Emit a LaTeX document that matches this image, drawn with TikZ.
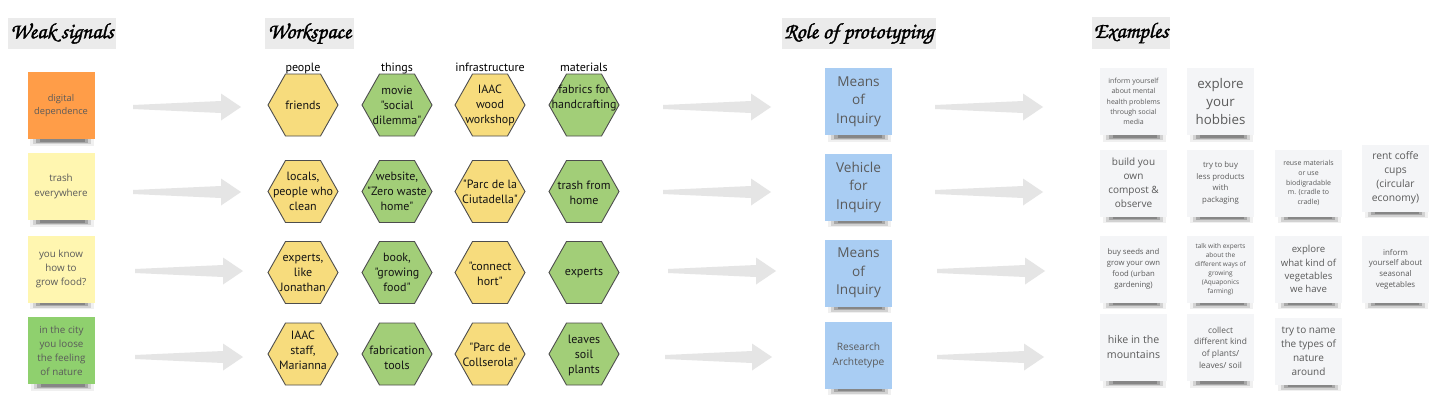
\documentclass[tikz,border=0pt]{standalone}
\usepackage{fontspec}
\setmainfont{Open Sans}
\newfontfamily\hexfont{PT Sans}
\newfontfamily\handfont[FakeBold=1.6]{texgyrechorus-mediumitalic.otf}
\usetikzlibrary{calc}
\pgfdeclarelayer{backlayer}
\pgfdeclarelayer{shadowlayer}
\pgfsetlayers{backlayer,shadowlayer,main}
\definecolor{orangesticky}{HTML}{FF9D48}
\definecolor{yellowsticky}{HTML}{FFF6B0}
\definecolor{greensticky}{HTML}{8FD06E}
\definecolor{bluesticky}{HTML}{A9CDF3}
\definecolor{graysticky}{HTML}{F4F5F7}
\definecolor{hexyellow}{HTML}{F7DC7D}
\definecolor{hexgreen}{HTML}{A2CE78}
\definecolor{hexborder}{HTML}{4D4D4D}
\definecolor{arrowgray}{HTML}{E5E5E5}
\definecolor{titlegray}{HTML}{EBEBEB}
\definecolor{stickytext}{HTML}{5A5A5A}
\definecolor{orangetext}{HTML}{6A4E38}
\definecolor{greentext}{HTML}{46543E}
\definecolor{bluetext}{HTML}{4A5560}
\newcommand\fs[2]{\fontsize{#1bp}{#2bp}\selectfont}
\tikzset{
  sticky/.style={rectangle, inner sep=0pt, minimum width=67bp, minimum height=67bp, align=center, text=stickytext},
  hexshape/.style={draw=hexborder, line width=0.9bp},
  hextext/.style={inner sep=0pt, align=center, font=\hexfont\fs{12}{15}, text=black!92},
  collabel/.style={anchor=base, inner sep=0pt, font=\hexfont\fs{12}{14}, text=black},
  titlenode/.style={fill=titlegray, inner sep=0pt, minimum height=31bp, font=\handfont\fs{22}{24}, text=black},
  arrowshape/.style={fill=arrowgray},
}
\newcommand\stickyshadow[1]{%
  \begin{pgfonlayer}{shadowlayer}
  \fill[black,opacity=.06] ($(#1.south west)+(3,-5)$) rectangle ($(#1.south east)+(-1,6.5)$);
  \fill[black,opacity=.12] ($(#1.south west)+(6,-4)$) rectangle ($(#1.south east)+(-4,5)$);
  \fill[black,opacity=.2] ($(#1.south west)+(9,-3)$) rectangle ($(#1.south east)+(-7,3.5)$);
  \fill[black,opacity=.2] ($(#1.south west)+(13,-2)$) rectangle ($(#1.south east)+(-10,2.5)$);
  \end{pgfonlayer}}
\newcommand\stickynote[6]{%
  \node[sticky, fill=#4, font=#5] (#1) at (#2,#3) {#6};
  \stickyshadow{#1}}
\newcommand\hexa[6]{% name, x, y, colour, text y-shift, text
  \path[hexshape, fill=#4] ({#2-35},#3) -- ({#2-17.5},{#3-31}) -- ({#2+17.5},{#3-31})
     -- ({#2+35},#3) -- ({#2+17.5},{#3+31}) -- ({#2-17.5},{#3+31}) -- cycle;
  \node[hextext] (#1) at (#2,{#3+#5}) {#6};}
\newcommand\fatarrow[2]{%
  \fill[arrowshape] ($(#1)+(0,-2)$) -- ($(#2)+(-20,-6)$) -- ($(#2)+(-20,-13.5)$) -- (#2)
     -- ($(#2)+(-20,13.5)$) -- ($(#2)+(-20,6)$) -- ($(#1)+(0,2)$) -- cycle;}
\begin{document}
\begin{tikzpicture}[x=1bp,y=-1bp]
\useasboundingbox (0,0) rectangle (1447,413);
\begin{pgfonlayer}{backlayer}
\fill[white] (0,0) rectangle (1447,413);
\end{pgfonlayer}

% titles
\node[titlenode, minimum width=108bp] (t1) at (62,33.5) {Weak signals};
\node[titlenode, minimum width=89bp] (t2) at (309.5,33.5) {Workspace};
\node[titlenode, minimum width=154bp] (t3) at (859,33.5) {Role of prototyping};
\node[titlenode, minimum width=78bp, minimum height=32bp] (t4) at (1131,33) {Examples};

% weak signals
\stickynote{w1}{61}{105.5}{orangesticky}{\fs{9.3}{12.4}\color{orangetext}}{digital\\dependence}
\stickynote{w2}{61}{186.5}{yellowsticky}{\fs{9.8}{14.2}}{trash\\everywhere}
\stickynote{w3}{61}{269}{yellowsticky}{\fs{9.8}{14}}{you know\\how to\\grow food?}
\stickynote{w4}{61.5}{350.5}{greensticky}{\fs{9.8}{14}\color{greentext}}{in the city\\you loose\\the feeling\\of nature}

% column labels
\node[collabel] (l1) at (303,71) {people};
\node[collabel] (l2) at (397,71) {things};
\node[collabel] (l3) at (490,71) {infrastructure};
\node[collabel] (l4) at (584,71) {materials};

% hexagons
\hexa{h11}{303}{105}{hexyellow}{0}{friends}
\hexa{h12}{397}{105}{hexgreen}{0}{movie\\"social\\dilemma"}
\hexa{h13}{490}{105}{hexyellow}{0}{IAAC\\wood\\workshop}
\hexa{h14}{584}{105}{hexgreen}{-6.5}{fabrics for\\handcrafting}
\hexa{h21}{303}{191.5}{hexyellow}{0}{locals,\\people who\\clean}
\hexa{h22}{397}{191.5}{hexgreen}{0}{website,\\"Zero waste\\home"}
\hexa{h23}{490}{191.5}{hexyellow}{0}{"Parc de la\\Ciutadella"}
\hexa{h24}{584}{191.5}{hexgreen}{1.5}{trash from\\home}
\hexa{h31}{303}{272.5}{hexyellow}{0.5}{experts,\\like\\Jonathan}
\hexa{h32}{397}{272.5}{hexgreen}{0}{book,\\"growing\\food"}
\hexa{h33}{490}{272.5}{hexyellow}{1}{"connect\\hort"}
\hexa{h34}{584}{272.5}{hexgreen}{0.5}{experts}
\hexa{h41}{303}{354}{hexyellow}{-3.5}{IAAC\\staff,\\Marianna}
\hexa{h42}{397}{354}{hexgreen}{4}{fabrication\\tools}
\hexa{h43}{490}{354}{hexyellow}{1}{"Parc de\\Collserola"}
\hexa{h44}{584}{354}{hexgreen}{1}{leaves\\soil\\plants}

% role of prototyping
\stickynote{r1}{858.5}{101.5}{bluesticky}{\fs{13.6}{18.5}\color{bluetext}}{Means\\of\\Inquiry}
\stickynote{r2}{858.5}{187}{bluesticky}{\fs{13.6}{18.5}\color{bluetext}}{Vehicle\\for\\Inquiry}
\stickynote{r3}{858.5}{273}{bluesticky}{\fs{13.6}{18.5}\color{bluetext}}{Means\\of\\Inquiry}
\stickynote{r4}{858.5}{355}{bluesticky}{\fs{10.2}{15}\color{bluetext}}{Research\\Archtetype}

% examples
\stickynote{e11}{1133.5}{101.5}{graysticky}{\fs{7}{10.4}}{inform yourself\\about mental\\health problems\\through social\\media}
\stickynote{e12}{1220.5}{101.5}{graysticky}{\fs{13.3}{18}}{explore\\your\\hobbies}
\stickynote{e21}{1133.5}{183}{graysticky}{\fs{10}{14}}{build you\\own\\compost \&\\observe}
\stickynote{e22}{1220.5}{183}{graysticky}{\fs{7.8}{11.7}}{try to buy\\less products\\with\\packaging}
\stickynote{e23}{1308.5}{183}{graysticky}{\fs{7}{9.7}}{reuse materials\\or use\\biodigradable\\m. (cradle to\\cradle)}
\stickynote{e24}{1395.5}{178}{graysticky}{\fs{10.3}{14}}{rent coffe\\cups\\(circular\\economy)}
\stickynote{e31}{1133.5}{269}{graysticky}{\fs{7.7}{10.7}}{buy seeds and\\grow your own\\food (urban\\gardening)}
\stickynote{e32}{1220.5}{269}{graysticky}{\fs{6.5}{9}\color{black!50}}{talk with experts\\about the\\different ways of\\growing\\(Aquaponics\\farming)}
\stickynote{e33}{1308.5}{269}{graysticky}{\fs{9.6}{13.2}}{explore\\what kind of\\vegetables\\we have}
\stickynote{e34}{1395.5}{269}{graysticky}{\fs{7.9}{10.7}}{inform\\yourself about\\seasonal\\vegetables}
\stickynote{e41}{1133.5}{347.5}{graysticky}{\fs{10.6}{15}}{hike in the\\mountains}
\stickynote{e42}{1220.5}{347.5}{graysticky}{\fs{8.4}{11.7}}{collect\\different kind\\of plants/\\leaves/ soil}
\stickynote{e43}{1308.5}{351}{graysticky}{\fs{10}{14}}{try to name\\the types of\\nature\\around}

% arrows
\coordinate (a1s) at (133,107); \coordinate (a1e) at (241,107);
\coordinate (a2s) at (133,192); \coordinate (a2e) at (241,192);
\coordinate (a3s) at (135,271); \coordinate (a3e) at (243,271);
\coordinate (a4s) at (135,357); \coordinate (a4e) at (243,357);
\coordinate (b1s) at (663,107); \coordinate (b1e) at (771,107);
\coordinate (b2s) at (663,192); \coordinate (b2e) at (771,192);
\coordinate (b3s) at (668,271); \coordinate (b3e) at (776,271);
\coordinate (b4s) at (665,357); \coordinate (b4e) at (772,357);
\coordinate (c1s) at (935,107); \coordinate (c1e) at (1043,107);
\coordinate (c2s) at (935,192); \coordinate (c2e) at (1043,192);
\coordinate (c3s) at (937,271); \coordinate (c3e) at (1045,271);
\coordinate (c4s) at (937,357); \coordinate (c4e) at (1044,357);
\fatarrow{a1s}{a1e}\fatarrow{a2s}{a2e}\fatarrow{a3s}{a3e}\fatarrow{a4s}{a4e}
\fatarrow{b1s}{b1e}\fatarrow{b2s}{b2e}\fatarrow{b3s}{b3e}\fatarrow{b4s}{b4e}
\fatarrow{c1s}{c1e}\fatarrow{c2s}{c2e}\fatarrow{c3s}{c3e}\fatarrow{c4s}{c4e}
\end{tikzpicture}
\end{document}
